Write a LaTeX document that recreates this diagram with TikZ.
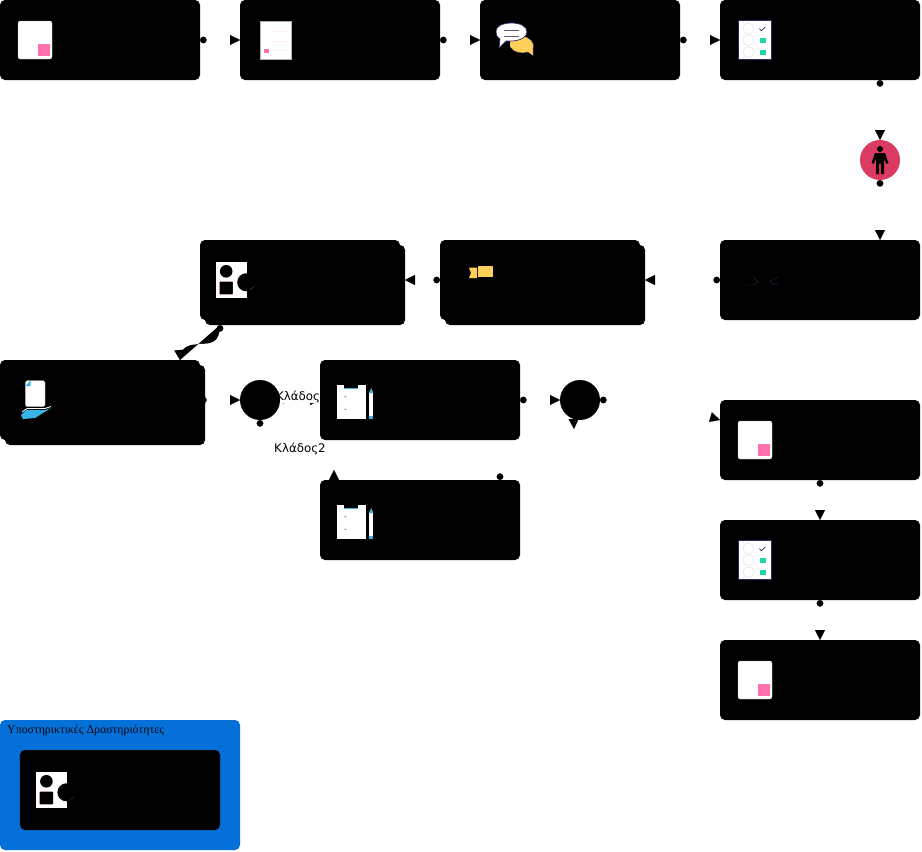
\documentclass[tikz,border=0pt]{standalone}
\usepackage{fontspec}
\setmainfont{Liberation Serif}
\newfontfamily\labelfont{DejaVu Sans}
\usetikzlibrary{arrows.meta}
\usetikzlibrary{backgrounds}
\usetikzlibrary{calc}
\definecolor{poolblue}{HTML}{0470D8}
\definecolor{pinkmark}{HTML}{FF6FAB}
\definecolor{paleline}{HTML}{FFEDF3}
\definecolor{navyline}{HTML}{2A2B63}
\definecolor{tealmark}{HTML}{1DD6AC}
\definecolor{palegrey}{HTML}{DCDCDF}
\definecolor{yellowmark}{HTML}{FFCF5C}
\definecolor{skymark}{HTML}{36B4E5}
\definecolor{personred}{HTML}{DB3A63}
\tikzset{
  taskbox/.style={rectangle,fill=black,rounded corners=1.5mm,minimum width=60mm,minimum height=24mm,inner sep=0pt,outer sep=0pt},
  gatebox/.style={circle,fill=black,minimum size=12mm,inner sep=0pt,outer sep=0pt},
  flow/.style={draw=white,line width=0.1pt,{Circle[black,length=2mm]}-{Triangle[black,length=3mm,width=3mm]}},
  branchlabel/.style={font=\labelfont\fontsize{10.1}{11}\selectfont,fill=white,inner sep=0pt,minimum width=13.5mm,minimum height=3.6mm},
  iconnote/.pic={
    \draw[white!70!black,fill=white,line width=0.2pt,rounded corners=0.6mm] (0,0) rectangle (34,38);
    \fill[pinkmark] (20,23) rectangle (32,35);
  },
  iconpage/.pic={
    \draw[white!70!black,fill=white,line width=0.2pt] (0,0) rectangle (30.7,38);
    \fill[pinkmark] (4.3,27.7) rectangle (9,32);
    \foreach \yy in {10,20,29} {\draw[paleline,line width=0.2pt] (14,\yy) -- (27,\yy);}
  },
  iconchat/.pic={
    \draw[navyline,fill=yellowmark,line width=0.3pt] (14,13) .. controls (30,10) and (40,18) .. (37,26) -- (37,33) -- (32,29) .. controls (26,31) and (18,30) .. (14,24) -- cycle;
    \draw[navyline,fill=white,line width=0.6pt] (0,9) .. controls (0,2) and (8,0) .. (15,0) .. controls (24,0) and (31,3) .. (31,9) .. controls (31,14) and (24,18) .. (15,18) -- (10,18) -- (3,25) -- (4,16) .. controls (1,14) and (0,12) .. (0,9) -- cycle;
    \draw[navyline!75,line width=0.8pt] (8,7) -- (23,7);
    \draw[navyline!75,line width=0.8pt] (8,13) -- (23,13);
  },
  iconsurvey/.pic={
    \draw[navyline,fill=white,line width=0.5pt] (0,0) rectangle (33.4,38.3);
    \foreach \yy in {8,19.5,31.5} {\draw[palegrey,line width=0.3pt] (10.2,\yy) circle [radius=5.5];}
    \draw[navyline,line width=0.6pt] (21,8) -- (23,10) -- (27,6.5);
    \fill[tealmark] (21.5,17.5) rectangle (27.5,22.5);
    \fill[tealmark] (21.5,29.5) rectangle (27.5,34.5);
  },
  iconshapes/.pic={
    \fill[white] (0,0) rectangle (31.4,36.6);
    \fill[black] (10.7,9.6) circle [radius=6.3];
    \draw[personred!60,fill=black,line width=0.1pt,rounded corners=0.2mm] (4,20) rectangle (17.4,32.6);
    \fill[black] (30.7,20.6) circle [radius=9];
    \draw[personred!70,line width=0.1pt] (38,25) arc (30:60:9);
  },
  iconhand/.pic={
    \draw[white!70!black,fill=white,line width=0.2pt,rounded corners=0.5mm] (4.3,0.7) -- (19.5,0.7) -- (24,0.7) -- (24,26.7) -- (4.3,26.7) -- cycle;
    \fill[skymark] (4.3,6) -- (9.5,0.7) -- (9.5,6) -- cycle;
    \fill[skymark] (0,35) -- (5,30) -- (24,30) -- (30,28) -- (14,38) -- (2,39) -- cycle;
    \draw[white,line width=0.7pt] (1,32) -- (6,28.5) -- (24,28.5) -- (30,26.5);
  },
  iconclip/.pic={
    \fill[white] (0,0) rectangle (29.3,34.3);
    \fill[black] (7.6,-2) rectangle (21,3);
    \fill[skymark] (7.6,3) rectangle (21,4);
    \draw[black,line width=0.4pt] (8,11.5) -- (9.5,12);
    \draw[black,line width=0.4pt] (8,24.5) -- (9.5,24);
    \fill[white] (32.3,8) rectangle (36.6,34.3);
    \fill[skymark] (32.3,8) -- (34.4,3) -- (36.6,8) -- cycle;
    \fill[skymark] (32.3,31) rectangle (36.6,34.3);
  },
}
\begin{document}
\begin{tikzpicture}[x=0.3mm,y=-0.3mm]
\useasboundingbox (0,0) rectangle (922,852);
\draw[fill=poolblue,draw=none,rounded corners=1.5mm] (0,720) rectangle (240,850);
\node[anchor=west,inner sep=0pt,text=black!85!navyline,font=\fontsize{10.1}{12}\selectfont] (poollabel) at (7,731) {Υποστηρικτικές Δραστηριότητες};

\node[taskbox] (task1) at (100,40) {};
\node[taskbox] (task2) at (340,40) {};
\node[taskbox] (task3) at (580,40) {};
\node[taskbox] (task4) at (820,40) {};
\node[circle,fill=personred,minimum size=12mm,inner sep=0pt,outer sep=0pt] (person) at (880,160) {};
\node[taskbox] (task5) at (820,280) {};
\node[taskbox] (task6b) at (545,285) {};
\node[taskbox] (task6) at (540,280) {};
\node[taskbox] (task7b) at (305,285) {};
\node[taskbox] (task7) at (300,280) {};
\node[taskbox] (task8b) at (105,405) {};
\node[taskbox] (task8) at (100,400) {};
\node[gatebox] (gate1) at (260,400) {};
\node[taskbox] (task9) at (420,400) {};
\node[taskbox] (task10) at (420,520) {};
\node[gatebox] (gate2) at (580,400) {};
\node[taskbox] (task11) at (820,440) {};
\node[taskbox] (task12) at (820,560) {};
\node[taskbox] (task13) at (820,680) {};
\node[taskbox] (task14) at (120,790) {};

\begin{scope}[on background layer]
\draw[flow] (task1.east) -- (task2.west);
\draw[flow] (task2.east) -- (task3.west);
\draw[flow] (task3.east) -- (task4.west);
\draw[flow] (task4.south -| person.north) -- (person.north);
\draw[flow] (person.south) -- (person.south |- task5.north);
\draw[flow] (task5.west) -- (task6b.east |- task5.west);
\draw[flow] (task6.west) -- (task7b.east |- task6.west);
\fill[black] ($(task7b.south west)+(15,0)$) .. controls +(0,17) and +(12,0) .. ($(task7b.south west)+(-5,19)$) .. controls +(-8,0) and +(-1,-14) .. ($(task8.north east)+(-20,0)$) -- cycle;
\draw[flow] ($(task7b.south west)+(15,0)$) .. controls +(0,17) and +(12,0) .. ($(task7b.south west)+(-5,19)$) .. controls +(-8,0) and +(-1,-14) .. ($(task8.north east)+(-20,0)$);
\draw[flow] (task8.east) -- (gate1.west);
\draw[flow] (gate1.east) -- (task9.west);
\draw[flow] (gate1.south) .. controls +(0,70) and +(0,30) .. ($(task10.north west)+(14,-10)$);
\draw[flow] (task9.east) -- (gate2.west);
\draw[flow] ($(task10.north east)+(-20,0)$) .. controls +(0,-80) and +(-1,-30) .. ($(gate2.south)+(-6,9)$);
\draw[flow] (gate2.east) .. controls +(60,0) and +(-20,-6) .. ($(task11.north west)+(0,20)$);
\draw[flow] (task11.south) -- (task12.north);
\draw[flow] (task12.south) -- (task13.north);
\node[branchlabel] (branch1) at (298,397) {Κλάδος};
\node[branchlabel,minimum width=0pt,fill=none] (branch2) at (300,449) {Κλάδος2};
\end{scope}

\pic at (18,21) {iconnote};
\pic at (260,21) {iconpage};
\pic at (496,23) {iconchat};
\pic at (738.3,20.7) {iconsurvey};
\pic at (215.5,261.7) {iconshapes};
\pic at (21,380) {iconhand};
\pic at (336.7,385) {iconclip};
\pic at (336.7,505) {iconclip};
\pic at (738,421) {iconnote};
\pic at (738.3,540.7) {iconsurvey};
\pic at (738,661) {iconnote};
\pic at (35.7,771.7) {iconshapes};

\fill[black] (880,149) circle [radius=3];
\fill[black] (875,153) -- (885,153) -- (888.5,163) -- (886.5,164) -- (884,159) -- (884,174) -- (876,174) -- (876,159) -- (873.5,164) -- (871.5,163) -- cycle;
\fill[personred!70!red] (879,164) rectangle (881,174);

\draw[navyline,line width=0.3pt] (745,285) -- (753,285) -- (758,282) -- (753,277);
\draw[navyline,line width=0.3pt] (778,277) -- (770,281) -- (773,284) -- (778,285);

\fill[yellowmark] (469,267.7) -- (477,267.7) -- (477,278) -- (469,278) -- (471,273) -- cycle;
\fill[yellowmark] (477.7,266) rectangle (493,277);
\end{tikzpicture}
\end{document}
